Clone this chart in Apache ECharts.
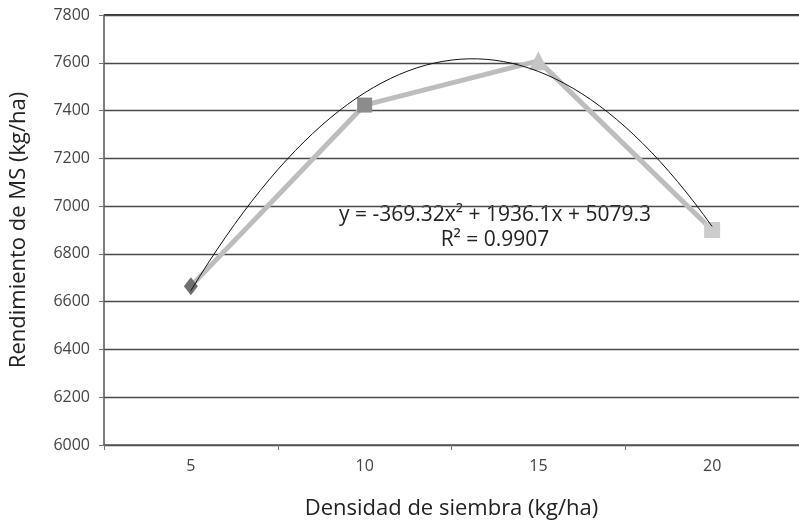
<!DOCTYPE html>
<html><head><meta charset="utf-8">
<script src="https://cdn.jsdelivr.net/npm/echarts@6/dist/echarts.min.js"></script>
<style>html,body{margin:0;padding:0;background:#fff}#c{width:799px;height:525px}</style>
</head><body><div id="c"></div>
<script>
const categories = ['5', '10', '15', '20'];
const yields = [6665, 7423, 7608, 6900];
const markerSymbols = ['diamond', 'rect', 'triangle', 'rect'];
const markerSizes = [[14, 18], 15, 19, 16];
const markerColors = ['#6e6e6e', '#8c8c8c', '#c4c4c4', '#cccccc'];
const trendCoef = [-369.32, 1936.1, 5079.3]; // displayed Excel trendline coefficients
const yTicks = [6000, 7800, 200];

const trend = [];
for (let x = 1; x <= 4.0001; x += 0.05) {
  trend.push([x, trendCoef[0] * x * x + trendCoef[1] * x + trendCoef[2]]);
}

const chart = echarts.init(document.getElementById('c'));
const font = '"Open Sans", "Liberation Sans", sans-serif';
chart.setOption({
  animation: false,
  grid: { left: 104, top: 15, width: 700, height: 432, containLabel: false },
  xAxis: [{
    type: 'category', data: categories, boundaryGap: true,
    name: 'Densidad de siembra (kg/ha)', nameLocation: 'middle', nameGap: 53,
    nameTextStyle: { fontFamily: font, fontSize: 22, color: '#222' },
    axisLine: { lineStyle: { color: '#555', width: 1.5 } },
    axisTick: { show: true, length: 5, lineStyle: { color: '#777' } },
    axisLabel: { fontFamily: font, fontSize: 16, color: '#444', margin: 13 },
    splitLine: { show: false }
  }, {
    type: 'value', min: 0.5, max: 4.5, show: false
  }],
  yAxis: {
    type: 'value', min: yTicks[0], max: yTicks[1], interval: yTicks[2],
    name: 'Rendimiento de MS (kg/ha)', nameLocation: 'middle', nameGap: 74,
    nameTextStyle: { fontFamily: font, fontSize: 22, color: '#222' },
    axisLine: { show: true, lineStyle: { color: '#555', width: 1.5 } },
    axisTick: { show: true, length: 5, lineStyle: { color: '#777' } },
    axisLabel: { fontFamily: font, fontSize: 16, color: '#444', margin: 14, formatter: v => String(v) },
    splitLine: { show: true, lineStyle: { color: '#4a4a4a', width: 1.3 } }
  },
  series: [{
    type: 'line', xAxisIndex: 0,
    data: yields.map((v, i) => ({
      value: v, symbol: markerSymbols[i],
      symbolSize: markerSizes[i],
      itemStyle: { color: markerColors[i] }
    })),
    lineStyle: { color: '#bdbdbd', width: 5 },
    z: 2
  }, {
    type: 'line', xAxisIndex: 1, data: trend, showSymbol: false, symbol: 'none',
    lineStyle: { color: '#111', width: 1 }, z: 3
  }],
  graphic: [{
    type: 'text', x: 495, y: 205,
    style: { text: 'y = -369.32x² + 1936.1x + 5079.3', font: '21px ' + font, fill: '#222', align: 'center', textAlign: 'center' }
  }, {
    type: 'text', x: 495, y: 230,
    style: { text: 'R² = 0.9907', font: '21px ' + font, fill: '#222', align: 'center', textAlign: 'center' }
  }, {
    type: 'line', shape: { x1: 104, y1: 15, x2: 799, y2: 15 },
    style: { stroke: '#333', lineWidth: 2 }
  }]
});
</script></body></html>
